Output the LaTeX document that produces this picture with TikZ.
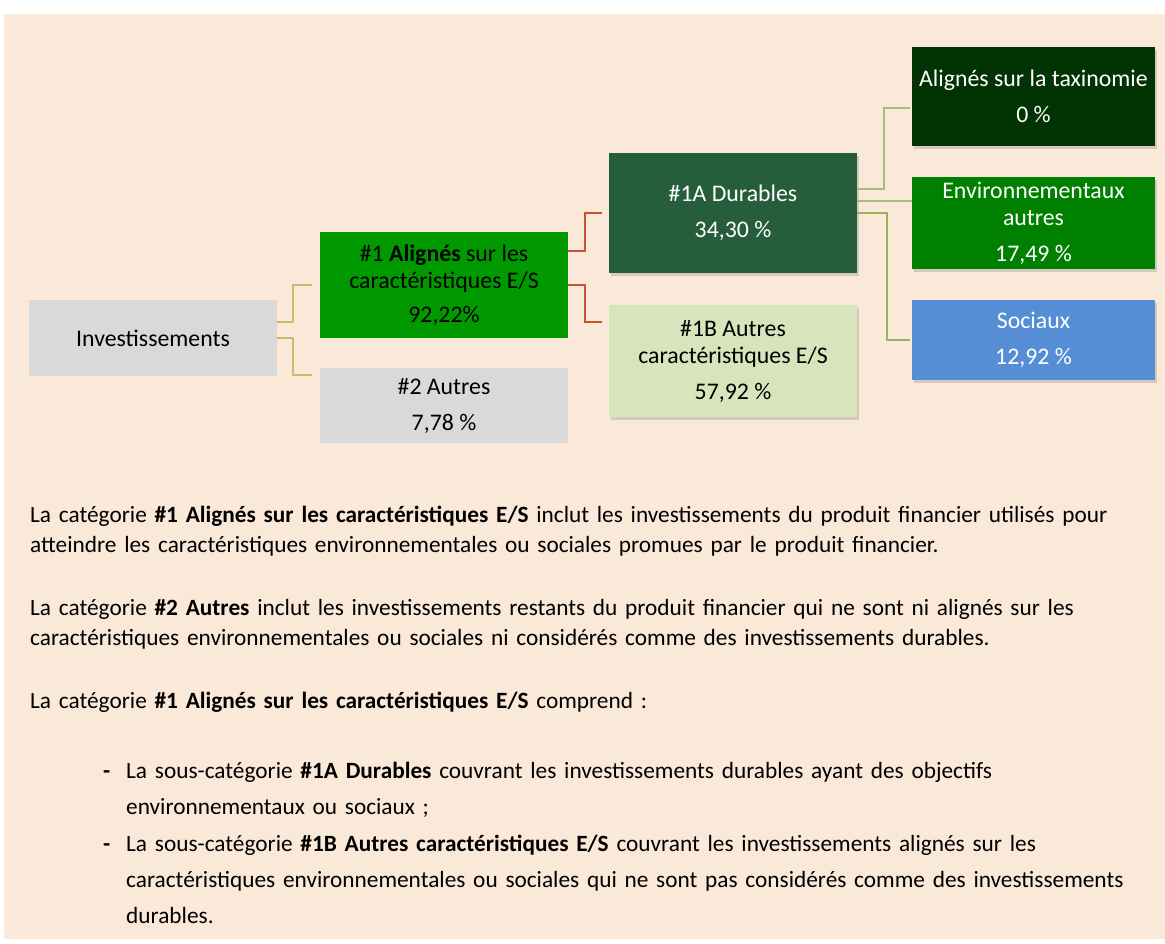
\documentclass[tikz,border=0pt]{standalone}
\usepackage{fontspec}
\setmainfont{Carlito}
\usepackage{xcolor}
\usetikzlibrary{positioning,shadows}

\definecolor{pagebeige}{HTML}{FAE8D8}
\definecolor{boxgrey}{HTML}{D9D9D9}
\definecolor{alignedgreen}{HTML}{009900}
\definecolor{durablegreen}{HTML}{265E3C}
\definecolor{otherpale}{HTML}{D8E4BC}
\definecolor{taxogreen}{HTML}{023302}
\definecolor{envgreen}{HTML}{008000}
\definecolor{socialblue}{HTML}{558ED5}
\definecolor{tanline}{HTML}{C9BB72}
\definecolor{redline}{HTML}{C9532F}
\definecolor{oliveline}{HTML}{AABB7C}
\definecolor{darkolive}{HTML}{98B35A}

\begin{document}
\begin{tikzpicture}[
    x=1pt, y=-1pt,
    box/.style={rectangle, inner sep=0pt, minimum width=248pt, align=center, font=\fontsize{23.8}{27}\selectfont},
    shade/.style={drop shadow={opacity=0.3, shadow xshift=2pt, shadow yshift=-3pt}},
    link/.style={line width=1.6pt},
    para/.style={anchor=base west, inner sep=0pt, text width=1110pt, align=left, font=\fontsize{23.3}{30}\selectfont},
    itemtext/.style={para, text width=1035pt, font=\fontsize{23.3}{36}\selectfont},
    bulletmark/.style={anchor=base west, inner sep=0pt, font=\fontsize{23.3}{36}\selectfont\bfseries}
]

% Page
\useasboundingbox (0,0) rectangle (1165,943);
\fill[pagebeige] (4,14) rectangle (1165,939);

% Tree
\node[box, fill=boxgrey, minimum height=76pt] (inv) at (153,338) {Investissements};
\node[box, fill=alignedgreen, minimum height=106pt] (a1) at (444,285) {\#1 \textbf{Alignés} sur les\\caractéristiques E/S\\[7pt]92,22\%};
\node[box, fill=boxgrey, minimum height=75pt, below=30pt of a1] (a2) {\#2 Autres\\[9pt]7,78 \%};

\node[box, shade, fill=durablegreen, text=white, minimum height=120pt] (d1a) at (733,213) {\#1A Durables\\[9pt]34,30 \%};
\node[box, shade, fill=otherpale, minimum height=112pt, below=32pt of d1a] (d1b) {\#1B Autres\\caractéristiques E/S\\[9pt]57,92 \%};

\node[box, shade, fill=taxogreen, text=white, minimum width=243pt, minimum height=99pt] (tax) at (1033.5,96.5) {Alignés sur la taxinomie\\[9pt]0 \%};
\node[box, shade, fill=envgreen, text=white, minimum width=243pt, minimum height=92pt, below=31pt of tax] (env) {Environnementaux\\autres\\[9pt]17,49 \%};
\node[box, shade, fill=socialblue, text=white, minimum width=243pt, minimum height=80pt, below=30pt of env] (soc) {Sociaux\\[9pt]12,92 \%};

% Connectors
\draw[link, tanline] ([yshift=16pt]inv.east) -- ++(16,0) |- ([xshift=-8pt]a1.west);
\draw[link, tanline] (inv.east) -- ++(16,0) |- ([xshift=-8pt,yshift=-7pt]a2.north west);
\draw[link, redline] ([yshift=34pt]a1.east) -- ++(17,0) |- ([xshift=-7pt]d1a.west);
\draw[link, redline] (a1.east) -- ++(17,0) |- ([xshift=-7pt,yshift=-17pt]d1b.north west);
\draw[link, oliveline] ([yshift=24pt]d1a.east) -- ++(27,0) |- ([xshift=-2pt,yshift=-11.5pt]tax.west);
\draw[link, oliveline] ([yshift=12pt]d1a.east) -- ([yshift=12pt]d1a.east -| env.west);
\draw[link, darkolive] (d1a.east) -- ++(30,0) |- ([xshift=-2pt]soc.west);

% Text below
\node[para] (p1) at (30,522) {La catégorie \textbf{\#1 Alignés sur les caractéristiques E/S} inclut les investissements du produit financier utilisés pour\\atteindre les caractéristiques environnementales ou sociales promues par le produit financier.};
\node[para] (p2) at (30,615) {La catégorie \textbf{\#2 Autres} inclut les investissements restants du produit financier qui ne sont ni alignés sur les\\caractéristiques environnementales ou sociales ni considérés comme des investissements durables.};
\node[para] (p3) at (30,708) {La catégorie \textbf{\#1 Alignés sur les caractéristiques E/S} comprend :};

\node[bulletmark] (m1) at (103,778) {-};
\node[itemtext] (i1) at (126,778) {La sous-catégorie \textbf{\#1A Durables} couvrant les investissements durables ayant des objectifs\\environnementaux ou sociaux ;};
\node[bulletmark] (m2) at (103,851) {-};
\node[itemtext] (i2) at (126,851) {La sous-catégorie \textbf{\#1B Autres caractéristiques E/S} couvrant les investissements alignés sur les\\caractéristiques environnementales ou sociales qui ne sont pas considérés comme des investissements\\durables.};

\end{tikzpicture}
\end{document}
